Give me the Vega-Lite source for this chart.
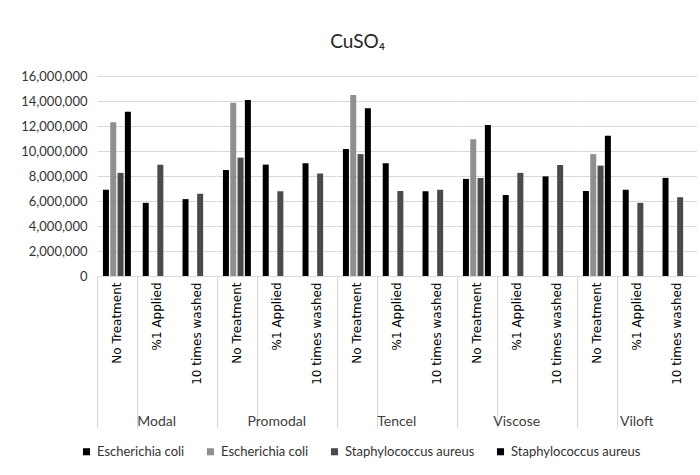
{
  "$schema": "https://vega.github.io/schema/vega-lite/v6.json",
  "padding": {"left": 20, "top": 33, "right": 5, "bottom": 5},
  "title": {"text": "CuSO₄", "font": "Lato", "fontSize": 19, "fontWeight": "normal", "color": "#262626", "anchor": "middle", "offset": 18, "dx": -1},
  "data": {"values": [
    {"fabric": "Modal", "treatment": "No Treatment", "series": "Escherichia coli (1)", "cfu": 6900000},
    {"fabric": "Modal", "treatment": "No Treatment", "series": "Escherichia coli (2)", "cfu": 12300000},
    {"fabric": "Modal", "treatment": "No Treatment", "series": "Staphylococcus aureus (1)", "cfu": 8250000},
    {"fabric": "Modal", "treatment": "No Treatment", "series": "Staphylococcus aureus (2)", "cfu": 13150000},
    {"fabric": "Modal", "treatment": "%1 Applied", "series": "Escherichia coli (1)", "cfu": 5850000},
    {"fabric": "Modal", "treatment": "%1 Applied", "series": "Staphylococcus aureus (1)", "cfu": 8900000},
    {"fabric": "Modal", "treatment": "10 times washed", "series": "Escherichia coli (1)", "cfu": 6150000},
    {"fabric": "Modal", "treatment": "10 times washed", "series": "Staphylococcus aureus (1)", "cfu": 6580000},
    {"fabric": "Promodal", "treatment": "No Treatment", "series": "Escherichia coli (1)", "cfu": 8480000},
    {"fabric": "Promodal", "treatment": "No Treatment", "series": "Escherichia coli (2)", "cfu": 13870000},
    {"fabric": "Promodal", "treatment": "No Treatment", "series": "Staphylococcus aureus (1)", "cfu": 9470000},
    {"fabric": "Promodal", "treatment": "No Treatment", "series": "Staphylococcus aureus (2)", "cfu": 14080000},
    {"fabric": "Promodal", "treatment": "%1 Applied", "series": "Escherichia coli (1)", "cfu": 8910000},
    {"fabric": "Promodal", "treatment": "%1 Applied", "series": "Staphylococcus aureus (1)", "cfu": 6780000},
    {"fabric": "Promodal", "treatment": "10 times washed", "series": "Escherichia coli (1)", "cfu": 9020000},
    {"fabric": "Promodal", "treatment": "10 times washed", "series": "Staphylococcus aureus (1)", "cfu": 8200000},
    {"fabric": "Tencel", "treatment": "No Treatment", "series": "Escherichia coli (1)", "cfu": 10160000},
    {"fabric": "Tencel", "treatment": "No Treatment", "series": "Escherichia coli (2)", "cfu": 14480000},
    {"fabric": "Tencel", "treatment": "No Treatment", "series": "Staphylococcus aureus (1)", "cfu": 9750000},
    {"fabric": "Tencel", "treatment": "No Treatment", "series": "Staphylococcus aureus (2)", "cfu": 13420000},
    {"fabric": "Tencel", "treatment": "%1 Applied", "series": "Escherichia coli (1)", "cfu": 9020000},
    {"fabric": "Tencel", "treatment": "%1 Applied", "series": "Staphylococcus aureus (1)", "cfu": 6800000},
    {"fabric": "Tencel", "treatment": "10 times washed", "series": "Escherichia coli (1)", "cfu": 6780000},
    {"fabric": "Tencel", "treatment": "10 times washed", "series": "Staphylococcus aureus (1)", "cfu": 6900000},
    {"fabric": "Viscose", "treatment": "No Treatment", "series": "Escherichia coli (1)", "cfu": 7770000},
    {"fabric": "Viscose", "treatment": "No Treatment", "series": "Escherichia coli (2)", "cfu": 10950000},
    {"fabric": "Viscose", "treatment": "No Treatment", "series": "Staphylococcus aureus (1)", "cfu": 7840000},
    {"fabric": "Viscose", "treatment": "No Treatment", "series": "Staphylococcus aureus (2)", "cfu": 12080000},
    {"fabric": "Viscose", "treatment": "%1 Applied", "series": "Escherichia coli (1)", "cfu": 6480000},
    {"fabric": "Viscose", "treatment": "%1 Applied", "series": "Staphylococcus aureus (1)", "cfu": 8250000},
    {"fabric": "Viscose", "treatment": "10 times washed", "series": "Escherichia coli (1)", "cfu": 7970000},
    {"fabric": "Viscose", "treatment": "10 times washed", "series": "Staphylococcus aureus (1)", "cfu": 8880000},
    {"fabric": "Viloft", "treatment": "No Treatment", "series": "Escherichia coli (1)", "cfu": 6800000},
    {"fabric": "Viloft", "treatment": "No Treatment", "series": "Escherichia coli (2)", "cfu": 9750000},
    {"fabric": "Viloft", "treatment": "No Treatment", "series": "Staphylococcus aureus (1)", "cfu": 8830000},
    {"fabric": "Viloft", "treatment": "No Treatment", "series": "Staphylococcus aureus (2)", "cfu": 11230000},
    {"fabric": "Viloft", "treatment": "%1 Applied", "series": "Escherichia coli (1)", "cfu": 6900000},
    {"fabric": "Viloft", "treatment": "%1 Applied", "series": "Staphylococcus aureus (1)", "cfu": 5850000},
    {"fabric": "Viloft", "treatment": "10 times washed", "series": "Escherichia coli (1)", "cfu": 7850000},
    {"fabric": "Viloft", "treatment": "10 times washed", "series": "Staphylococcus aureus (1)", "cfu": 6300000}
  ]},
  "facet": {
    "column": {
      "field": "fabric", "type": "nominal",
      "sort": ["Modal", "Promodal", "Tencel", "Viscose", "Viloft"],
      "header": {"title": null, "labelOrient": "bottom", "labelFont": "Lato", "labelFontSize": 14, "labelColor": "#404040", "labelPadding": -14}
    }
  },
  "spacing": 0,
  "spec": {
    "width": 119.4,
    "height": 200,
    "mark": {"type": "bar"},
    "encoding": {
      "x": {
        "field": "treatment", "type": "nominal",
        "sort": ["No Treatment", "%1 Applied", "10 times washed"],
        "scale": {"paddingInner": 0, "paddingOuter": 0},
        "axis": {
          "title": null, "labelAngle": -90, "labelFont": "DejaVu Sans", "labelFontSize": 12, "labelColor": "#000000",
          "ticks": true, "tickBand": "extent", "tickSize": 152, "tickColor": "#d9d9d9", "tickWidth": 1,
          "tickOpacity": {"condition": {"test": "datum.value === 'No Treatment' || datum.index < 0", "value": 1}, "value": 0},
          "labelPadding": -146,
          "domain": true, "domainColor": "#d9d9d9", "grid": false
        }
      },
      "xOffset": {
        "field": "series", "type": "nominal",
        "sort": ["Escherichia coli (1)", "Escherichia coli (2)", "Staphylococcus aureus (1)", "Staphylococcus aureus (2)"],
        "scale": {"paddingInner": 0.18, "paddingOuter": 0.81}
      },
      "y": {
        "field": "cfu", "type": "quantitative",
        "scale": {"domain": [0, 16000000], "nice": false},
        "axis": {"title": null, "values": [0, 2000000, 4000000, 6000000, 8000000, 10000000, 12000000, 14000000, 16000000], "format": ",.0f", "labelFont": "Lato", "labelFontSize": 13, "labelColor": "#333333", "labelPadding": 10, "ticks": false, "domain": false, "grid": true, "gridColor": "#d9d9d9"}
      },
      "color": {
        "field": "series", "type": "nominal",
        "scale": {"domain": ["Escherichia coli (1)", "Escherichia coli (2)", "Staphylococcus aureus (1)", "Staphylococcus aureus (2)"], "range": ["#000000", "#8f8f8f", "#4a4a4a", "#000000"]},
        "legend": {"title": null, "orient": "none", "legendX": -17, "legendY": 369, "direction": "horizontal", "columns": 4, "symbolType": "square", "symbolSize": 50, "symbolStrokeWidth": 0, "labelFont": "Lato", "labelFontSize": 13, "labelColor": "#333333", "columnPadding": 19, "labelOffset": 4, "labelExpr": "split(datum.label, ' (')[0]"}
      }
    }
  },
  "config": {
    "view": {"stroke": null},
    "background": "#ffffff"
  }
}
